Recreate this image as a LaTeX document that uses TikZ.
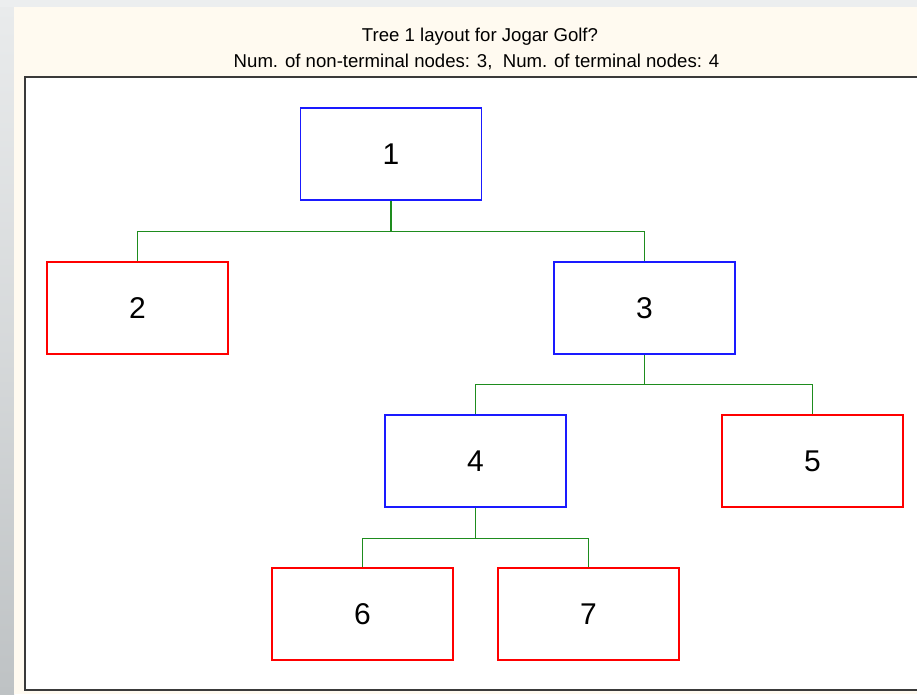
\documentclass[tikz,border=0pt]{standalone}
\usepackage{fontspec}
\setmainfont{Liberation Sans}
\definecolor{cream}{HTML}{FFFAF0}
\definecolor{topgray}{HTML}{ECEEEF}
\definecolor{sidegrayA}{HTML}{E9EBEC}
\definecolor{sidegrayB}{HTML}{BEC2C4}
\definecolor{nodeblue}{HTML}{1A1AFF}
\definecolor{nodered}{HTML}{FF0000}
\definecolor{conngreen}{HTML}{1E8C1E}
\definecolor{framegray}{HTML}{3A3A3A}
\begin{document}
\begin{tikzpicture}[x=1pt,y=-1pt,
  treebox/.style={rectangle, minimum width=181pt, minimum height=92pt, inner sep=0pt,
    line width=1.3pt, font=\fontsize{30}{36}\selectfont, fill=white},
  inner/.style={treebox, draw=nodeblue},
  leaf/.style={treebox, draw=nodered},
  conn/.style={draw=conngreen, line width=1.4pt},
  titletext/.style={font=\fontsize{18.6}{22}\selectfont, inner sep=0pt}]
\useasboundingbox (0,0) rectangle (917,694);
\fill[topgray] (0,0) rectangle (917,7);
\shade[top color=sidegrayA, bottom color=sidegrayB, middle color=sidegrayA!55!sidegrayB] (0,7) rectangle (14,694);
\fill[cream] (14,7) rectangle (917,694);
\fill[white] (25,77) rectangle (917,690);
\draw[framegray, line width=2pt] (918,77) -- (25,77) -- (25,690) -- (918,690);

\node[titletext] (t1) at (480,37) {Tree 1 layout for Jogar Golf?};
\node[titletext] (t2) at (476.5,62) {Num. of non-terminal nodes: 3,\ \ Num. of terminal nodes: 4};

\node[inner] (n1) at (391,154) {1};
\node[leaf]  (n2) at (137.5,308) {2};
\node[inner] (n3) at (644.5,308) {3};
\node[inner] (n4) at (475.5,461) {4};
\node[leaf]  (n5) at (812.5,461) {5};
\node[leaf]  (n6) at (362.5,614) {6};
\node[leaf]  (n7) at (588.5,614) {7};

\draw[conn] (n1.south) -- ++(0,31) coordinate (j1);
\draw[conn] (n2.north) |- (j1) -| (n3.north);
\draw[conn] (n3.south) -- ++(0,30) coordinate (j3);
\draw[conn] (n4.north) |- (j3) -| (n5.north);
\draw[conn] (n4.south) -- ++(0,31) coordinate (j4);
\draw[conn] (n6.north) |- (j4) -| (n7.north);
\end{tikzpicture}
\end{document}
